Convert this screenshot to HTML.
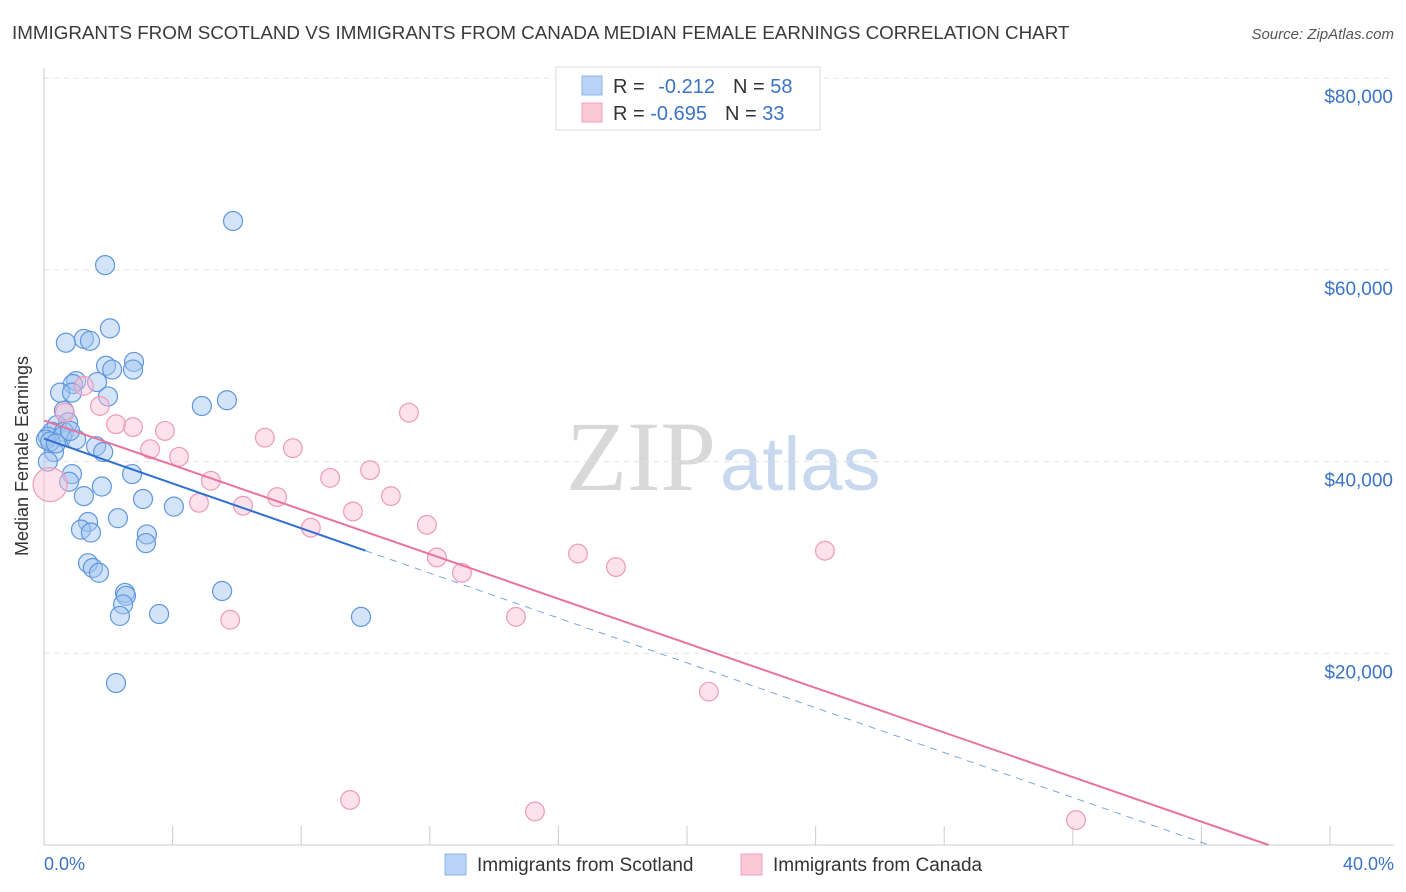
<!DOCTYPE html>
<html><head><meta charset="utf-8"><style>
body{margin:0;background:#fff;font-family:"Liberation Sans",sans-serif;}
#wrap{position:relative;width:1406px;height:892px;overflow:hidden;}
</style></head><body>
<div id="wrap">
<svg id="svg" width="1406" height="892" xmlns="http://www.w3.org/2000/svg">
<text x="12" y="39" font-size="18.8" fill="#3a3a3a">IMMIGRANTS FROM SCOTLAND VS IMMIGRANTS FROM CANADA MEDIAN FEMALE EARNINGS CORRELATION CHART</text>
<text x="1394" y="39" font-size="15" fill="#555" text-anchor="end" font-style="italic">Source: ZipAtlas.com</text>
<text x="716" y="490" font-size="100" fill="#d8d8d8" text-anchor="end" font-family="Liberation Serif">ZIP</text>
<text x="720" y="490" font-size="76" fill="#c8d8ee">atlas</text>
<g id="grid"></g><g id="axes"></g><g id="pts"></g><g id="lines"></g>
<text x="28" y="456" font-size="18" fill="#333" text-anchor="middle" transform="rotate(-90 28 456)">Median Female Earnings</text>
<text x="44" y="870" font-size="18" fill="#3b73c8">0.0%</text>
<text x="1394" y="870" font-size="18" fill="#3b73c8" text-anchor="end">40.0%</text>
<g>
<rect x="556" y="67" width="264" height="63" fill="#fff" stroke="#ddd"/>
<rect x="582" y="76" width="20" height="19" fill="#b8d3f5" stroke="#8ab4ea"/>
<rect x="582" y="103" width="20" height="19" fill="#fcc8d8" stroke="#f2a0bb"/>
<text x="613" y="93" font-size="20" fill="#333">R = <tspan fill="#3b73c8" dx="8">-0.212</tspan><tspan fill="#333" dx="18">N = </tspan><tspan fill="#3b73c8">58</tspan></text>
<text x="613" y="120" font-size="20" fill="#333">R = <tspan fill="#3b73c8">-0.695</tspan><tspan fill="#333" dx="18">N = </tspan><tspan fill="#3b73c8">33</tspan></text>
</g>
<g>
<rect x="445" y="854" width="21" height="21" fill="#b8d3f5" stroke="#8ab4ea"/>
<text x="477" y="871" font-size="19" fill="#333">Immigrants from Scotland</text>
<rect x="741" y="854" width="21" height="21" fill="#fcc8d8" stroke="#f2a0bb"/>
<text x="773" y="871" font-size="19" fill="#333">Immigrants from Canada</text>
</g>
</svg></div>
<script>
const yTicks=[20000,40000,60000,80000];
const yTickLabels=["$20,000","$40,000","$60,000","$80,000"];
const xTicks=[0,4,8,12,16,20,24,28,32,36,40];
const scotX=[5.88,1.90,2.05,0.68,1.24,1.43,2.80,1.93,2.77,2.12,1.00,0.90,1.65,0.50,0.87,1.99,4.91,5.69,0.62,0.75,0.40,0.25,0.62,0.12,0.56,1.00,1.62,1.84,0.31,0.12,0.87,2.74,0.78,1.80,1.24,3.08,4.04,2.30,1.37,1.15,1.46,3.20,3.17,1.37,1.52,1.71,2.52,2.55,2.46,5.54,2.36,3.58,9.86,2.24,0.06,0.19,0.37,0.81];
const scotY=[65100,60500,53900,52400,52800,52600,50400,50000,49600,49600,48400,48100,48300,47200,47200,46800,45800,46400,45300,44100,43800,43100,43100,42600,42600,42300,41600,41000,41000,40000,38700,38700,37900,37400,36400,36100,35300,34100,33700,32900,32600,32400,31500,29400,28900,28400,26300,26000,25100,26500,23900,24100,23800,16900,42300,42100,41900,43200];
const canX=[0.65,1.24,1.74,2.24,2.77,3.30,3.76,4.20,4.82,5.19,6.19,6.87,7.25,7.74,8.30,8.90,9.61,10.14,10.79,11.35,11.91,12.22,13.00,14.68,16.61,17.79,5.79,20.68,24.29,9.52,15.27,32.10,0.19];
const canY=[45100,47900,45800,43900,43600,41300,43200,40500,35700,38000,35400,42500,36300,41400,33100,38300,34800,39100,36400,45100,33400,30000,28400,23800,30400,29000,23500,16000,30700,4700,3500,2600,37600];
const canR=[11,11,11,11,11,11,11,11,11,11,11,11,11,11,11,11,11,11,11,11,11,11,11,11,11,11,11,11,11,11,11,11,20];
const scotFit=[42400,-1170]; const canFit=[44300,-1163];
const NS="http://www.w3.org/2000/svg";
const X=v=>44+v*32.15, Y=v=>845-v/104.33;
function mk(t,a,p){const e=document.createElementNS(NS,t);for(const k in a)e.setAttribute(k,a[k]);p.appendChild(e);return e;}
const grid=document.getElementById('grid'),axes=document.getElementById('axes'),pts=document.getElementById('pts'),lines=document.getElementById('lines');
yTicks.forEach((v,i)=>{
 const l=mk('line',{x1:44,x2:1394,y1:Y(v),y2:Y(v),stroke:'#e2e2e2','stroke-dasharray':'5,5'},grid);
 
 
 const t=mk('text',{x:1393,y:Y(v)+25,'font-size':19,fill:'#3b73c8','text-anchor':'end'},grid);
 t.textContent=yTickLabels[i];
 
 
});
const ya=mk('line',{x1:44,x2:44,y1:68,y2:845,stroke:'#ccc'},axes);


const xa=mk('line',{x1:44,x2:1394,y1:845,y2:845,stroke:'#ccc'},axes);


xTicks.forEach(v=>{const l=mk('line',{x1:X(v),x2:X(v),y1:826,y2:845,stroke:'#ccc'},axes);
 
 });
scotX.forEach((v,i)=>{const c=mk('circle',{cx:X(v),cy:Y(scotY[i]),r:9.5,fill:'rgba(160,196,240,0.45)',stroke:'#5f97de','stroke-width':1.2},pts);
 
 });
canX.forEach((v,i)=>{const c=mk('circle',{cx:X(v),cy:Y(canY[i]),r:canR[i]*0.85,fill:'rgba(250,190,210,0.45)',stroke:'#ee9ab8','stroke-width':1.2},pts);
 
 });
const sz=-scotFit[0]/scotFit[1];
const b1=mk('line',{x1:X(0),y1:Y(scotFit[0]),x2:X(10),y2:Y(scotFit[0]+scotFit[1]*10),stroke:'#2f6fd0','stroke-width':2},lines);


const b2=mk('line',{x1:X(10),y1:Y(scotFit[0]+scotFit[1]*10),x2:X(sz),y2:Y(0),stroke:'#7aa6e2','stroke-width':1,'stroke-dasharray':'7,6'},lines);


const cz=-canFit[0]/canFit[1];
const p1=mk('line',{x1:X(0),y1:Y(canFit[0]),x2:X(cz),y2:Y(0),stroke:'#e8739c','stroke-width':2},lines);


</script>
</body></html>
